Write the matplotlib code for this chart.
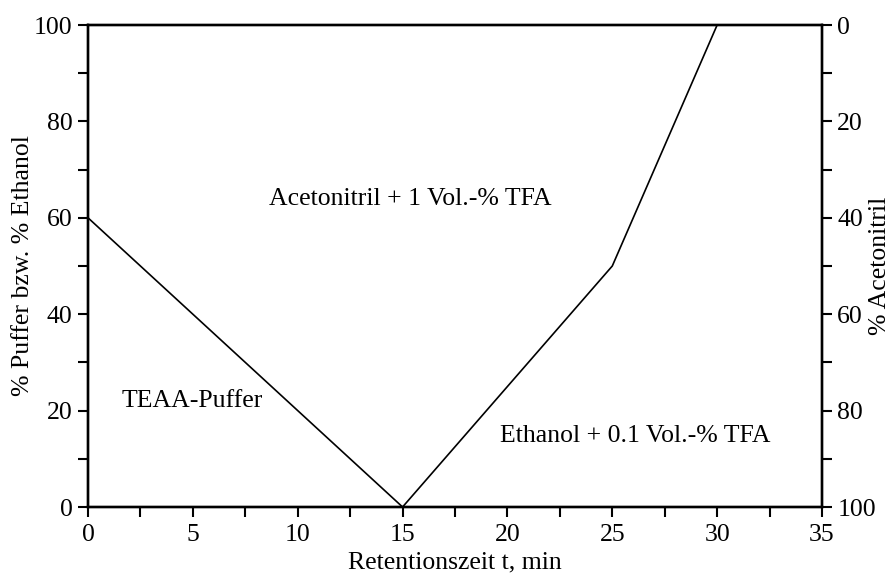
import matplotlib
matplotlib.use("Agg")
import matplotlib.pyplot as plt
from matplotlib.ticker import MultipleLocator

# gradient profile
time_min = [0, 15, 25, 30, 35]
puffer_ethanol = [60, 0, 50, 100, 100]

x_ticks = [0, 5, 10, 15, 20, 25, 30, 35]
left_ticks = [0, 20, 40, 60, 80, 100]
right_ticks = [0, 20, 40, 60, 80, 100]

region_labels = ["Acetonitril + 1 Vol.-% TFA", "TEAA-Puffer", "Ethanol + 0.1 Vol.-% TFA"]
region_pos = [(15.35, 64), (4.95, 22), (26.1, 14.7)]

plt.rcParams['font.family'] = ['Liberation Serif', 'DejaVu Serif']
FS = 18.5

fig = plt.figure(figsize=(8.92, 5.75), dpi=100)
ax = fig.add_axes([88 / 892, (575 - 507) / 575, 734 / 892, 482 / 575])

ax.plot(time_min, puffer_ethanol, color='black', linewidth=1.2, clip_on=False)

ax.set_xlim(0, 35)
ax.set_ylim(0, 100)
ax.set_xticks(x_ticks)
ax.set_yticks(left_ticks)
ax.xaxis.set_minor_locator(MultipleLocator(2.5))
ax.yaxis.set_minor_locator(MultipleLocator(10))
ax.tick_params(axis='both', which='both', direction='out', length=7, width=1.5,
               labelsize=FS)
ax.tick_params(axis='x', which='both', top=False, pad=5)
ax.tick_params(axis='y', which='both', right=False, pad=4)
for s in ax.spines.values():
    s.set_linewidth(1.7)

ax.set_xlabel("Retentionszeit t, min", fontsize=FS, va='center')
ax.xaxis.set_label_coords(0.5, -0.116)
ax.set_ylabel("% Puffer bzw. % Ethanol", fontsize=FS, va='center', ha='center')
ax.yaxis.set_label_coords(-0.0886, 0.5)

ax2 = ax.twinx()
ax2.set_ylim(100, 0)
ax2.set_yticks(right_ticks)
ax2.yaxis.set_minor_locator(MultipleLocator(10))
ax2.tick_params(axis='y', which='both', direction='out', length=7, width=1.5,
                labelsize=FS, pad=4)
ax2.set_ylabel("% Acetonitril", fontsize=FS, rotation=90, va='center', ha='center')
ax2.yaxis.set_label_coords(1.079, 0.5)
for s in ax2.spines.values():
    s.set_linewidth(1.7)

for txt, (x, y) in zip(region_labels, region_pos):
    ax.text(x, y, txt, fontsize=FS, ha='center', va='center')

fig.savefig("out.png", dpi=100)
